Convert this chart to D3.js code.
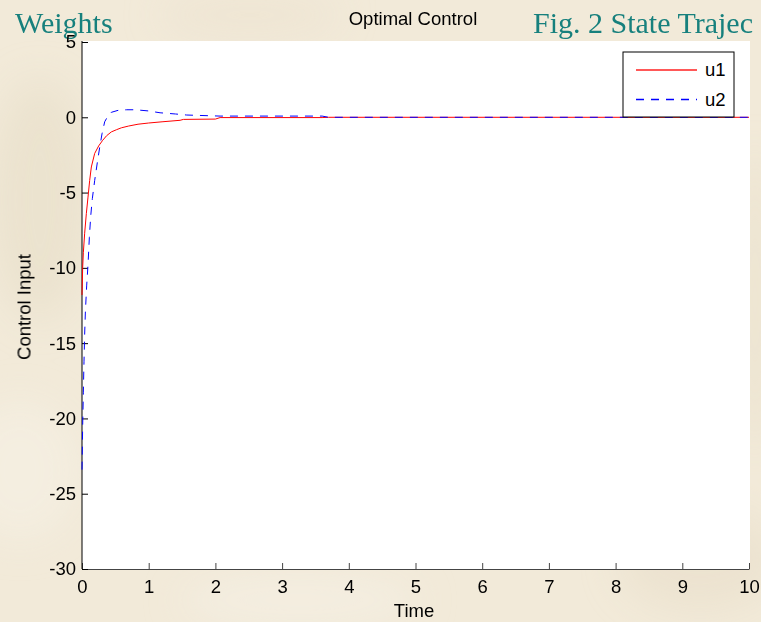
<!DOCTYPE html>
<html>
<head>
<meta charset="utf-8">
<script src="https://cdn.jsdelivr.net/npm/d3@7"></script>
<style>
  body { margin: 0; background: #f2ead9; }
  svg { display: block; font-family: Arial, "Liberation Sans", sans-serif; }
</style>
</head>
<body>
<svg id="chart"></svg>
<script>
// values
const t1 = [0, 0.01, 0.02, 0.04, 0.065, 0.09, 0.115, 0.14, 0.19, 0.25, 0.31, 0.37, 0.44, 0.52, 0.59, 0.7, 0.84, 1.0, 1.2, 1.47, 1.52, 2.0, 2.07, 3.6, 3.7, 10];
const u1 = [-11.8, -10.0, -9.0, -7.7, -6.4, -5.3, -4.2, -3.3, -2.4, -1.9, -1.53, -1.22, -0.97, -0.82, -0.7, -0.58, -0.46, -0.38, -0.3, -0.2, -0.14, -0.12, -0.02, -0.02, 0, 0];

const t2 = [0, 0.01, 0.02, 0.03, 0.04, 0.05, 0.07, 0.09, 0.11, 0.13, 0.155, 0.19, 0.23, 0.265, 0.3, 0.34, 0.39, 0.44, 0.54, 0.67, 0.8, 1.0, 1.17, 1.4, 1.57, 2.07, 3.6, 3.7, 10];
const u2 = [-23.4, -20.5, -18.3, -16.2, -14.4, -13.0, -11.2, -9.8, -8.0, -6.6, -5.4, -4.2, -3.0, -2.0, -1.1, -0.3, 0.1, 0.33, 0.46, 0.5, 0.5, 0.42, 0.3, 0.22, 0.15, 0.08, 0.08, 0, 0];

const seriesNames = ['u1', 'u2'];
const xTicks = [0, 1, 2, 3, 4, 5, 6, 7, 8, 9, 10];
const yTicks = [5, 0, -5, -10, -15, -20, -25, -30];

class ControlChart {

    constructor(_config) {
        this.config = {
            parentElement: _config.parentElement,
            containerWidth: _config.containerWidth || 761,
            containerHeight: _config.containerHeight || 622,
            margin: { top: 42, bottom: 53, right: 12, left: 82 }
        }
        this.initVis();
    }

    initVis() {
        let vis = this;

        vis.width = vis.config.containerWidth - vis.config.margin.left - vis.config.margin.right;
        vis.height = vis.config.containerHeight - vis.config.margin.top - vis.config.margin.bottom;

        vis.svg = d3.select(vis.config.parentElement)
            .attr('width', vis.config.containerWidth)
            .attr('height', vis.config.containerHeight);

        // a bit of the parchment look of the slide
        const defs = vis.svg.append('defs');
        defs.append('filter').attr('id', 'soft')
            .append('feGaussianBlur').attr('stdDeviation', 18);
        const blobs = vis.svg.append('g').attr('filter', 'url(#soft)');
        [[40, 200, 50, 120, '#e8dfca'], [20, 470, 60, 70, '#f5efe2'], [700, 560, 80, 50, '#e9e0cc'],
         [300, 600, 120, 25, '#f5f0e4'], [250, 15, 90, 20, '#ece3d0'], [755, 300, 20, 150, '#eae1cd']]
            .forEach(b => blobs.append('ellipse')
                .attr('cx', b[0]).attr('cy', b[1]).attr('rx', b[2]).attr('ry', b[3])
                .attr('fill', b[4]).attr('opacity', 0.7));

        // slide text that sits behind the figure
        vis.svg.append('text')
            .attr('x', 15).attr('y', 33)
            .attr('font-family', '"Liberation Serif", "Times New Roman", serif')
            .attr('font-size', 30)
            .attr('fill', '#17807d')
            .text('Weights');
        vis.svg.append('text')
            .attr('x', 533).attr('y', 33)
            .attr('font-family', '"Liberation Serif", "Times New Roman", serif')
            .attr('font-size', 30)
            .attr('fill', '#17807d')
            .text('Fig. 2 State Trajec');

        vis.chart = vis.svg.append('g')
            .attr('transform', `translate(${vis.config.margin.left},${vis.config.margin.top})`);

        vis.xScale = d3.scaleLinear().domain([0, 10]).range([0, vis.width]);
        vis.yScale = d3.scaleLinear().domain([-30, 5]).range([vis.height, 0]);

        // white axes area
        vis.chart.append('rect')
            .attr('x', 0).attr('y', -1)
            .attr('width', vis.width + 1).attr('height', vis.height + 1)
            .attr('fill', '#fff');

        // axes, ticks pointing inwards like matlab
        vis.chart.append('g')
            .attr('class', 'x-axis')
            .attr('transform', `translate(0,${vis.height})`)
            .call(d3.axisBottom(vis.xScale).tickValues(xTicks).tickFormat(d => String(d))
                .tickSizeInner(-6).tickSizeOuter(0).tickPadding(11));
        vis.chart.append('g')
            .attr('class', 'y-axis')
            .call(d3.axisLeft(vis.yScale).tickValues(yTicks).tickFormat(d => String(d))
                .tickSizeInner(-6).tickSizeOuter(0).tickPadding(6));

        vis.chart.selectAll('.tick text')
            .attr('font-size', 18.5)
            .attr('font-family', 'Arial, "Liberation Sans", sans-serif')
            .attr('fill', '#000');
        vis.chart.selectAll('.x-axis path, .x-axis line').attr('stroke', '#444');
        vis.chart.selectAll('.y-axis path, .y-axis line').attr('stroke', '#000');
        vis.chart.select('.y-axis .domain').attr('d', `M0,-1V${vis.height}`);

        // lines
        vis.line = d3.line()
            .x(d => vis.xScale(d[0]))
            .y(d => vis.yScale(d[1]));

        vis.chart.append('path')
            .datum(d3.zip(t1, u1))
            .attr('fill', 'none')
            .attr('stroke', '#ff0000')
            .attr('stroke-width', 1)
            .attr('d', vis.line);
        vis.chart.append('path')
            .datum(d3.zip(t2, u2))
            .attr('fill', 'none')
            .attr('stroke', '#0000ff')
            .attr('stroke-width', 1)
            .attr('stroke-dasharray', '8,7')
            .attr('d', vis.line);

        // titles
        vis.svg.append('text')
            .attr('x', 413).attr('y', 25)
            .attr('text-anchor', 'middle')
            .attr('font-size', 18.5)
            .text('Optimal Control');
        vis.svg.append('text')
            .attr('x', 414).attr('y', 617)
            .attr('text-anchor', 'middle')
            .attr('font-size', 18.5)
            .text('Time');
        vis.svg.append('text')
            .attr('transform', 'translate(30.5,307) rotate(-90)')
            .attr('text-anchor', 'middle')
            .attr('font-size', 18.5)
            .text('Control Input');

        // legend
        const lx = 623 - vis.config.margin.left, ly = 52 - vis.config.margin.top;
        const legend = vis.chart.append('g').attr('transform', `translate(${lx},${ly})`);
        legend.append('rect')
            .attr('width', 111).attr('height', 65)
            .attr('fill', '#fff').attr('stroke', '#000');
        const colors = ['#ff2020', '#0000ff'];
        const dashes = ['none', '8,7'];
        seriesNames.forEach((name, i) => {
            const yy = 18 + i * 29.5;
            legend.append('path')
                .attr('d', `M13,${yy}H74`)
                .style('fill', 'none')
                .style('stroke', colors[i])
                .style('stroke-width', 1.3)
                .style('stroke-dasharray', dashes[i]);
            legend.append('text')
                .attr('x', 82).attr('y', yy + 6)
                .attr('font-size', 18.5)
                .text(name);
        });
    }
}

new ControlChart({ parentElement: '#chart' });
</script>
</body>
</html>
